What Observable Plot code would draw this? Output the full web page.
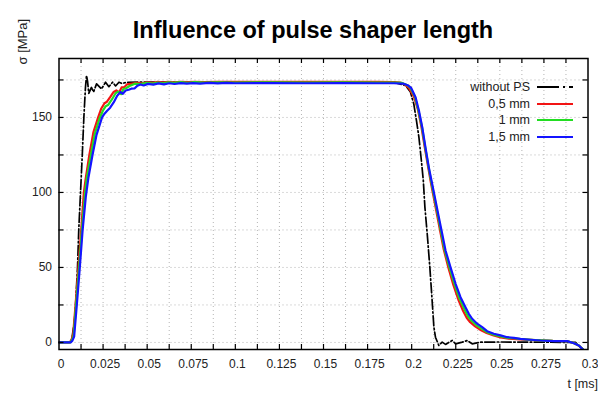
<!DOCTYPE html>
<html><head><meta charset="utf-8">
<script src="https://cdn.jsdelivr.net/npm/d3@7"></script>
<script src="https://cdn.jsdelivr.net/npm/@observablehq/plot@0.6"></script>
<style>
body{margin:0;background:#fff;font-family:"Liberation Sans",Arial,sans-serif;}
#wrap{position:relative;width:598px;height:399px;overflow:hidden;}
#legend{position:absolute;left:420px;top:79px;font-size:12.5px;color:#222;}
#legend .row{display:flex;align-items:center;justify-content:flex-end;height:16.5px;}
#legend .row span{display:block;text-align:right;}
#legend svg{display:block;margin-left:7px;}
</style></head><body><div id="wrap"></div>
<script>
const title = "Influence of pulse shaper length";
const xLabel = "t [ms]";
const yLabel = "σ [MPa]";
const seriesNames = ["without PS", "0,5 mm", "1 mm", "1,5 mm"];
const seriesColors = ["#000000", "#f21414", "#22dd22", "#1414ff"];
const xTickLabels = [0, 0.025, 0.05, 0.075, 0.1, 0.125, 0.15, 0.175, 0.2, 0.225, 0.25, 0.275, 0.3];
const xGridValues = [0.0125, 0.025, 0.0375, 0.05, 0.0625, 0.075, 0.0875, 0.1, 0.1125, 0.125, 0.1375, 0.15, 0.1625, 0.175, 0.1875, 0.2, 0.2125, 0.225, 0.2375, 0.25, 0.2625, 0.275, 0.2875];
const yTickLabels = [0, 50, 100, 150];
const yGridValues = [0, 25, 50, 75, 100, 125, 150, 175];

// [t (ms), sigma (MPa)]
const withoutPS = [[0,0],[0.0065,0],[0.0075,4],[0.0088,15],[0.0094,25],[0.0105,50],[0.0112,75],[0.0122,100],[0.0132,125],[0.0141,150],[0.015,170],[0.0156,178],[0.0162,174],[0.0169,166],[0.0184,170],[0.0196,167],[0.0213,172.4],[0.0241,169],[0.0264,173.5],[0.0283,170.5],[0.0304,173.5],[0.0321,171],[0.034,173.5],[0.0358,172.6],[0.038,173.4],[0.05,173.6],[0.1,173.6],[0.15,173.6],[0.19,173.4],[0.1965,171.3],[0.1993,166.9],[0.2012,159],[0.2027,148],[0.2041,136.9],[0.2055,121.3],[0.2066,108],[0.2075,90.2],[0.2088,72.7],[0.2103,50.2],[0.2116,28],[0.2126,10.2],[0.2135,3.5],[0.2154,-2],[0.2173,0.2],[0.2192,-1.3],[0.223,1.3],[0.2249,-0.9],[0.2287,0.2],[0.2315,1.3],[0.2343,-0.9],[0.239,0.2],[0.25,0.3],[0.27,0.2],[0.2929,0],[0.2957,-3],[0.2976,-5.3]];
const ps05 = [[0,0],[0.006,0],[0.007,1.5],[0.008,5],[0.0094,25],[0.011,50],[0.0126,75],[0.0141,100],[0.015,108],[0.0172,125],[0.0195,140],[0.0222,150],[0.024,156],[0.0258,159.5],[0.0272,160.5],[0.029,163.5],[0.031,167],[0.0325,168],[0.034,166.5],[0.0355,170],[0.037,170.2],[0.0385,172],[0.0405,172.4],[0.044,173],[0.047,172.7],[0.05,173.4],[0.053,173.1],[0.056,173.7],[0.059,173.3],[0.062,173.8],[0.065,173.4],[0.069,173.8],[0.073,173.5],[0.077,173.8],[0.082,173.6],[0.09,173.8],[0.1,173.7],[0.12,173.8],[0.14,173.7],[0.16,173.8],[0.18,173.7],[0.19,173.6],[0.1935,173.3],[0.196,172],[0.1985,169.5],[0.2012,164],[0.2035,155.5],[0.2055,144],[0.2073,131],[0.2092,118],[0.211,106],[0.2128,95],[0.2145,84.5],[0.2163,73.5],[0.2182,62],[0.2208,50],[0.2236,38.5],[0.2265,28.5],[0.2292,21],[0.2312,16.5],[0.2332,13.5],[0.236,10.7],[0.2388,8.5],[0.2425,6.3],[0.2465,4.6],[0.2505,3.4],[0.255,2.6],[0.2617,2.1],[0.27,1.5],[0.28,1],[0.2885,0.8],[0.2922,-0.5],[0.295,-2.3],[0.2968,-4.3],[0.2978,-5.3]];
const ps10 = [[0,0],[0.0063,0],[0.0073,1.3],[0.0083,4.5],[0.0097,25],[0.0114,50],[0.013,75],[0.0148,100],[0.0158,110],[0.0181,125],[0.0203,139],[0.0232,150],[0.0249,154.5],[0.0265,157.5],[0.028,158.5],[0.03,162],[0.032,166],[0.0335,167.2],[0.0352,165.5],[0.0365,169],[0.038,169.5],[0.04,171],[0.043,172.5],[0.046,172.2],[0.05,173],[0.053,172.6],[0.056,173.3],[0.059,172.8],[0.062,173.4],[0.065,173],[0.069,173.5],[0.073,173.1],[0.077,173.5],[0.082,173.2],[0.09,173.4],[0.1,173.3],[0.12,173.4],[0.14,173.3],[0.16,173.4],[0.18,173.3],[0.19,173.2],[0.1945,173],[0.197,171.8],[0.1992,169.8],[0.2018,164],[0.2038,155],[0.2058,143.8],[0.2076,130.6],[0.2095,117.5],[0.2113,106],[0.2132,94.8],[0.215,84],[0.2168,73],[0.2187,61.6],[0.2214,50.1],[0.2243,38.8],[0.2271,29.4],[0.2299,22.2],[0.2318,17.8],[0.2338,14.6],[0.2366,11.6],[0.2394,9.4],[0.2427,6.9],[0.2466,5.2],[0.2505,4],[0.2545,3],[0.258,2.8],[0.2617,2.3],[0.27,1.6],[0.28,1],[0.2885,0.8],[0.2922,-0.5],[0.295,-2.2],[0.2968,-4.2],[0.2978,-5.3]];
const ps15 = [[0,0],[0.0066,0],[0.0076,1.2],[0.0086,4],[0.0101,25],[0.0118,50],[0.0134,75],[0.0152,97],[0.0167,110],[0.019,125],[0.0212,138],[0.0244,150],[0.0258,152.5],[0.0273,154.5],[0.029,156.5],[0.031,160],[0.033,164.5],[0.0349,166.9],[0.0362,165.8],[0.0378,168],[0.0395,168.5],[0.041,169.2],[0.0428,169.3],[0.0445,171.2],[0.0462,172],[0.048,171.3],[0.0505,172.4],[0.0535,171.9],[0.0565,172.7],[0.0595,172.1],[0.0625,172.8],[0.0655,172.3],[0.069,172.9],[0.0725,172.5],[0.076,172.9],[0.08,172.6],[0.085,173],[0.09,172.7],[0.095,173],[0.1,172.8],[0.12,172.9],[0.14,172.8],[0.16,172.9],[0.18,172.8],[0.19,172.8],[0.195,172.6],[0.1978,171.5],[0.1998,169.5],[0.2022,163.5],[0.2041,154.7],[0.206,143.5],[0.2078,130.2],[0.2097,116.9],[0.2116,105.8],[0.2135,94.7],[0.2154,83.5],[0.2173,72.5],[0.2192,61.3],[0.222,50.2],[0.2249,39.1],[0.2277,30.2],[0.2305,23.5],[0.2324,19.1],[0.2343,15.8],[0.2371,12.5],[0.24,10.2],[0.2428,7.5],[0.2466,5.8],[0.2504,4.7],[0.2542,3.5],[0.258,3.1],[0.2617,2.4],[0.2674,1.8],[0.2731,1.3],[0.2807,0.9],[0.2882,0.9],[0.292,-0.5],[0.2948,-2],[0.2967,-4.2],[0.2976,-5.3]];

const seriesData = [withoutPS, ps05, ps10, ps15];
const rows = seriesData.flatMap((arr, i) => arr.map(([t, s]) => ({series: seriesNames[i], t, s})));
const blackRows = rows.filter(d => d.series === seriesNames[0]);
const colorRows = rows.filter(d => d.series !== seriesNames[0]);

const W = 598, H = 399, mL = 58.5, mR = 10.5, mT = 58, mB = 50;
const fw = W - mL - mR, fh = H - mT - mB;
const txt = "#222";

const chart = Plot.plot({
  width: W, height: H,
  marginLeft: mL, marginRight: mR, marginTop: mT, marginBottom: mB,
  style: {fontFamily: "'Liberation Sans', Arial, sans-serif", fontSize: "12px", background: "#fff", overflow: "visible"},
  x: {domain: [0, 0.3], axis: null},
  y: {domain: [-4.7, 189.3], axis: null},
  color: {domain: seriesNames, range: seriesColors},
  marks: [
    Plot.ruleX(xGridValues, {x: d => d, stroke: "#b4b4b4", strokeWidth: 1, strokeDasharray: "1,3"}),
    Plot.ruleY(yGridValues, {y: d => d, stroke: "#b4b4b4", strokeWidth: 1, strokeDasharray: "1,3"}),
    Plot.line(blackRows, {x: "t", y: "s", stroke: "#000", strokeWidth: 1.7, strokeDasharray: "10,2.5,1.5,2.5", clip: true}),
    Plot.line(colorRows, {x: "t", y: "s", z: "series", stroke: "series", strokeWidth: 2.2, clip: true}),
    Plot.frame({stroke: "#000", strokeWidth: 1.5}),
    Plot.ruleX(xGridValues, {x: d => d, insetTop: fh - 5, stroke: "#000", strokeWidth: 1.2}),
    Plot.ruleX(xGridValues, {x: d => d, insetBottom: fh - 5, stroke: "#000", strokeWidth: 1.2}),
    Plot.ruleY(yGridValues, {y: d => d, insetRight: fw - 5, stroke: "#000", strokeWidth: 1.2}),
    Plot.ruleY(yGridValues, {y: d => d, insetLeft: fw - 5, stroke: "#000", strokeWidth: 1.2}),
    Plot.text(xTickLabels, {x: d => d, frameAnchor: "bottom", dy: 18, dx: 2, text: d => String(d), fontSize: 12, fill: txt}),
    Plot.text(yTickLabels, {y: d => d, frameAnchor: "left", dx: -7, textAnchor: "end", text: d => String(d), fontSize: 12, fill: txt}),
    Plot.text([title], {frameAnchor: "top", dy: -37, dx: -10.5, fontSize: 23.5, fontWeight: "bold", fill: "#000"}),
    Plot.text([yLabel], {frameAnchor: "top-left", dx: -41, dy: 6, rotate: -90, fontSize: 13, fill: txt}),
    Plot.text([xLabel], {frameAnchor: "bottom-right", dx: 10, dy: 38, textAnchor: "end", fontSize: 12.5, fill: txt})
  ]
});
const wrap = document.getElementById("wrap");
wrap.appendChild(chart);

// legend
const legend = document.createElement("div");
legend.id = "legend";
seriesNames.forEach((name, i) => {
  const row = document.createElement("div");
  row.className = "row";
  const span = document.createElement("span");
  span.textContent = name;
  span.style.width = "110px";
  row.appendChild(span);
  const dash = i === 0 ? 'stroke-dasharray="22,4,2,4"' : "";
  const sw = i === 0 ? 1.8 : 2.2;
  row.insertAdjacentHTML("beforeend", `<svg width="36" height="6"><line x1="0" y1="3" x2="36" y2="3" stroke="${seriesColors[i]}" stroke-width="${sw}" ${dash}/></svg>`);
  legend.appendChild(row);
});
wrap.appendChild(legend);
</script></body></html>
